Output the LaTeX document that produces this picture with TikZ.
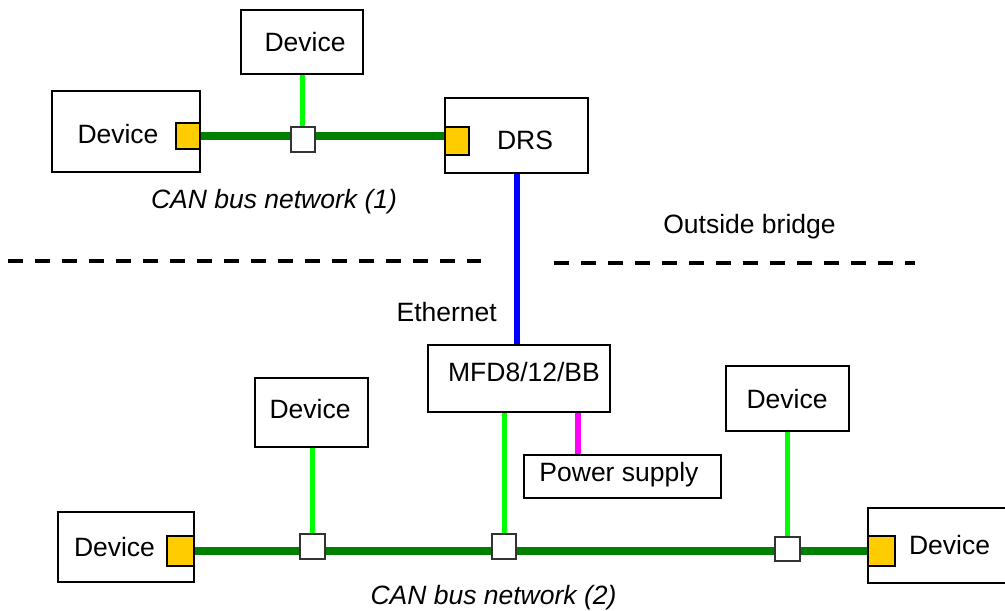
\documentclass[tikz,border=0pt]{standalone}
\usepackage{fontspec}
\setmainfont{Liberation Sans}
\usetikzlibrary{backgrounds}
\definecolor{busgreen}{RGB}{0,128,0}
\definecolor{stubgreen}{RGB}{0,255,0}
\definecolor{portyellow}{RGB}{255,204,0}
\definecolor{ethblue}{RGB}{0,0,255}
\definecolor{pwrmag}{RGB}{255,0,255}
\begin{document}
\begin{tikzpicture}[x=1pt,y=-1pt,
  font=\fontsize{26.5}{31}\selectfont,
  box/.style 2 args={draw=black,line width=1.9pt,fill=white,inner sep=0pt,minimum width=#1,minimum height=#2},
  port/.style 2 args={draw=black,line width=1.6pt,fill=portyellow,inner sep=0pt,minimum width=#1,minimum height=#2},
  junc/.style 2 args={draw=black!80,line width=1.4pt,fill=white,inner sep=0pt,minimum width=#1,minimum height=#2},
  txt/.style={inner sep=0pt},
  itxt/.style={inner sep=0pt,font=\fontsize{26.5}{31}\selectfont\itshape},
  bus/.style={draw=busgreen,line width=7.5pt},
  stub/.style={draw=stubgreen,line width=5pt},
  eth/.style={draw=ethblue,line width=6pt},
  pwr/.style={draw=pwrmag,line width=6pt},
  zone/.style={draw=black,line width=4pt,dash pattern=on 15pt off 12pt}]
\useasboundingbox (0,0) rectangle (1005,611);
\clip (0,0) rectangle (1005,611);

% boxes
\node[box={122pt}{64pt}] (devT) at (302,42) {};
\node[txt] (devTt) at (305,42) {Device};
\node[box={148pt}{81pt}] (devL) at (126,131.5) {};
\node[txt] (devLt) at (118,134) {Device};
\node[box={143pt}{75pt}] (drs) at (516.5,135.5) {};
\node[txt] (drst) at (525,140) {DRS};
\node[box={182pt}{67pt}] (mfd) at (519,378.5) {};
\node[txt] (mfdt) at (524,372) {MFD8/12/BB};
\node[box={197pt}{43pt}] (psu) at (622.5,476.5) {};
\node[txt] (psut) at (619,475) {Power supply};
\node[box={113pt}{69pt}] (devM) at (311.5,412.5) {};
\node[txt] (devMt) at (310,409) {Device};
\node[box={123pt}{65pt}] (devR) at (787.5,398.5) {};
\node[txt] (devRt) at (787,399) {Device};
\node[box={136pt}{70pt}] (devBL) at (126,547) {};
\node[txt] (devBLt) at (114.5,547) {Device};
\node[box={144pt}{75pt}] (devBR) at (940,545.5) {};
\node[txt] (devBRt) at (949.5,545) {Device};

% ports and junctions
\node[port={24pt}{26pt}] (portL) at (188,136) {};
\node[port={24pt}{28pt}] (portD) at (457,141) {};
\node[junc={24pt}{25pt}] (j1) at (303,139.5) {};
\node[port={27pt}{30pt}] (portBL) at (180.5,551) {};
\node[port={27pt}{30pt}] (portBR) at (881.5,551) {};
\node[junc={25pt}{25pt}] (jb1) at (312.5,546.5) {};
\node[junc={24pt}{25pt}] (jb2) at (504,546.5) {};
\node[junc={25pt}{24pt}] (jb3) at (787.5,549) {};

% labels
\node[itxt] (can1) at (274,202) {CAN bus network (1)};
\node[itxt] (can2) at (493.5,598) {CAN bus network (2)};
\node[txt] (outside) at (749.5,227) {Outside bridge};
\node[txt,anchor=east] (eth) at (497,312) {Ethernet};

% zone divider
\coordinate (zl1) at (8,261);
\coordinate (zl2) at (481,261);
\coordinate (zr1) at (554,263);
\coordinate (zr2) at (915,263);
\draw[zone] (zl1) -- (zl2);
\draw[zone] (zr1) -- (zr2);

% connectors
\begin{pgfonlayer}{background}
\draw[bus] (portL.center) -- (portL.center -| portD.center);
\draw[bus] (portBL.center) -- (portBR.center);
\draw[stub] (devT.south) -- (devT.south |- j1.north);
\draw[stub] (jb1.north) -- (jb1.north |- devM.south);
\draw[stub] (jb2.north) -- (jb2.north |- mfd.south);
\draw[stub] (jb3.north) -- (jb3.north |- devR.south);
\draw[eth] (drs.south) -- (drs.south |- mfd.north);
\draw[pwr] ([xshift=55pt]psu.north west) -- ([xshift=55pt]psu.north west |- mfd.south);
\end{pgfonlayer}
\end{tikzpicture}
\end{document}
